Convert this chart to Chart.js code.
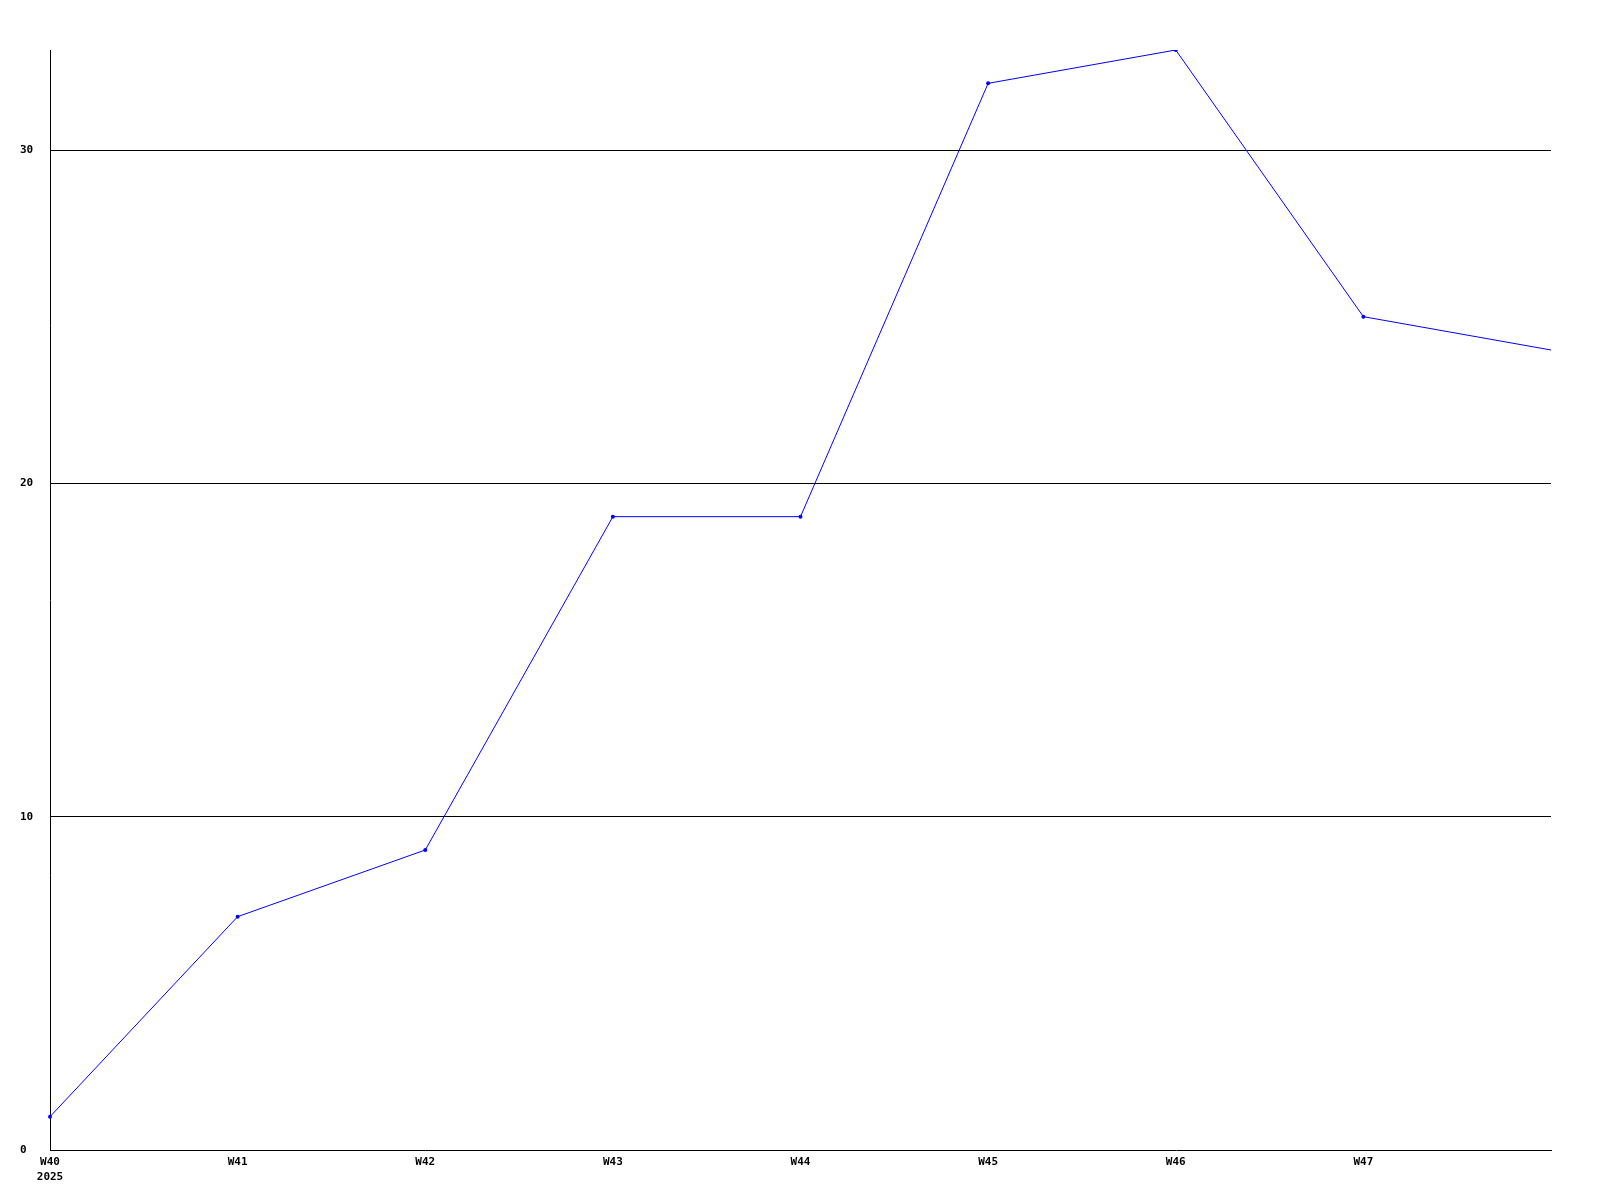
<!DOCTYPE html>
<html>
<head>
<meta charset="utf-8">
<script src="https://cdn.jsdelivr.net/npm/chart.js@4"></script>
<style>
    html, body { margin: 0; padding: 0; background: #fff; }
    #wrap { width: 1600px; height: 1200px; }
</style>
</head>
<body>
<div id="wrap"><canvas id="weekChart" width="1600" height="1200"></canvas></div>
<script>
// weekly counts
const weeks = [['W40', '2025'], 'W41', 'W42', 'W43', 'W44', 'W45', 'W46', 'W47', ''];
const counts = [1, 7, 9, 19, 19, 32, 33, 25, 24];
const yTicks = [0, 10, 20, 30];

const tickFont = { family: 'DejaVu Sans Mono', size: 11, weight: 'bold', lineHeight: '15px' };

const ctx = document.getElementById('weekChart').getContext('2d');

new Chart(ctx, {
    type: 'line',
    data: {
        labels: weeks,
        datasets: [{
            data: counts,
            borderColor: '#0000ff',
            backgroundColor: '#0000ff',
            borderWidth: 1,
            pointRadius: counts.map((v, i) => i === counts.length - 1 ? 0 : 2),
            pointBorderWidth: 0,
            tension: 0,
            fill: false
        }]
    },
    options: {
        responsive: false,
        animation: false,
        layout: {
            padding: { left: 20, top: 50, right: 49, bottom: 0 }
        },
        plugins: {
            legend: { display: false },
            tooltip: { enabled: false }
        },
        scales: {
            x: {
                offset: false,
                grid: { display: false, drawTicks: false },
                border: { display: true, color: '#000', width: 1 },
                ticks: {
                    color: '#000',
                    font: tickFont,
                    autoSkip: false,
                    maxRotation: 0,
                    padding: 5
                },
                afterFit: scale => { scale.height = 50; }
            },
            y: {
                min: 0,
                max: 33,
                afterBuildTicks: scale => {
                    scale.ticks = yTicks.map(v => ({ value: v }));
                },
                grid: {
                    color: ctx => ctx.tick && ctx.tick.value === 0 ? 'rgba(0,0,0,0)' : '#000',
                    lineWidth: 1,
                    drawTicks: false
                },
                border: { display: true, color: '#000', width: 1 },
                ticks: {
                    color: '#000',
                    font: tickFont,
                    crossAlign: 'far',
                    padding: 0
                },
                afterFit: scale => { scale.width = 30; }
            }
        }
    }
});
</script>
</body>
</html>
